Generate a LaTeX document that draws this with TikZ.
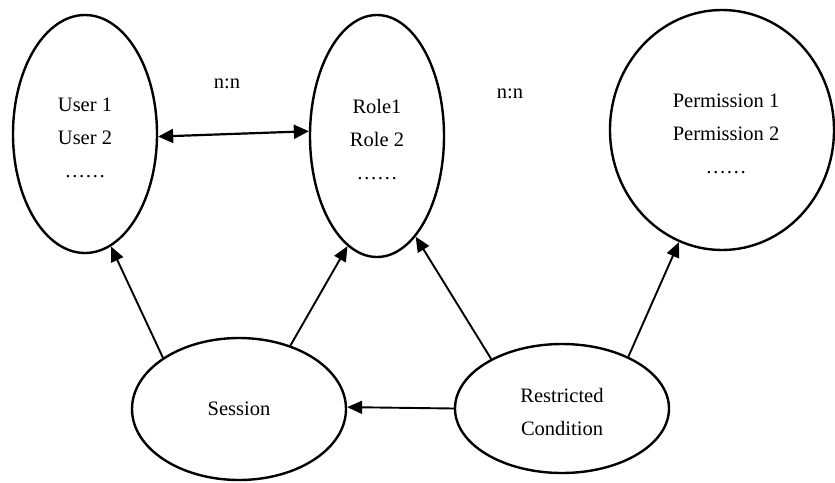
\documentclass[tikz,border=0pt]{standalone}
\usepackage{fontspec}
\setmainfont{Liberation Serif}
\usetikzlibrary{shapes.geometric,arrows.meta}
\newcommand{\topstrut}{\rule{0pt}{22pt}}
\begin{document}
\begin{tikzpicture}[x=1pt,y=-1pt,
  ent/.style={ellipse,draw,line width=2.4pt,inner sep=0pt,align=center,font=\fontsize{20.5}{33}\selectfont},
  lab/.style={font=\fontsize{20.5}{24}\selectfont,inner sep=0pt},
  conn/.style={line width=1.9pt,-{Triangle[length=15pt,width=13pt]}},
  dconn/.style={line width=2.2pt,{Triangle[length=15pt,width=14pt]}-{Triangle[length=15pt,width=14pt]}},
]
\useasboundingbox (0,0) rectangle (835,482);
\node[ent,minimum width=144pt,minimum height=238pt] (user) at (85,134) {\topstrut User 1\\User 2\\……};
\node[ent,minimum width=134pt,minimum height=242pt] (role) at (377,136) {\topstrut Role1\\Role 2\\……};
\node[ent,minimum width=224pt,minimum height=240pt] (perm) at (722,130) {\topstrut\hspace{8pt}Permission 1\\\hspace{8pt}Permission 2\\\hspace{8pt}……};
\node[ent,minimum width=214pt,minimum height=142pt] (sess) at (239,409) {Session};
\node[ent,minimum width=214pt,minimum height=129pt] (rc) at (562,408.5) {\topstrut Restricted\\Condition};
\node[lab] (nn1) at (227,83.5) {n:n};
\node[lab] (nn2) at (510,93.5) {n:n};
\draw[dconn] (user.-2) -- (role.176);
\draw[conn] (sess.146) -- (user.-77);
\draw[conn] (sess.51) -- (role.-105);
\draw[conn] (rc.145) -- (role.-69);
\draw[conn] (rc.38) -- (perm.-111);
\draw[conn] (rc.180) -- (sess.1);
\end{tikzpicture}
\end{document}
